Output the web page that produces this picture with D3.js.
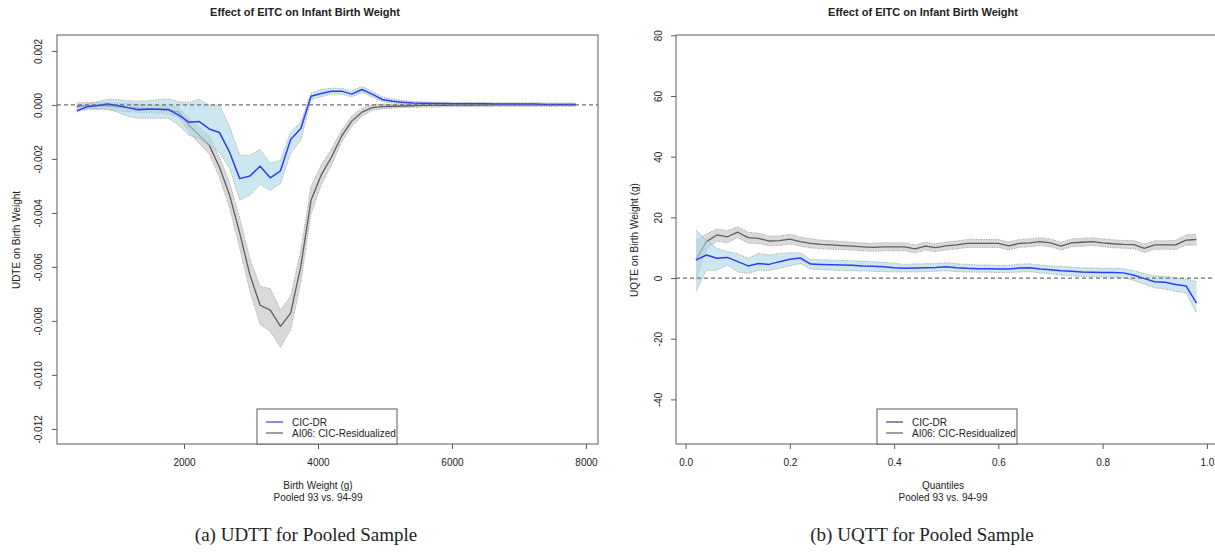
<!DOCTYPE html>
<html>
<head>
<meta charset="utf-8">
<script src="https://cdn.jsdelivr.net/npm/d3@7"></script>
<style>
  html, body { margin: 0; padding: 0; background: #fff; }
  svg { display: block; }
  text { font-family: "Liberation Sans", Arial, Helvetica, sans-serif; fill: #222; }
</style>
</head>
<body>
<svg id="chart" width="1215" height="552"></svg>
<script>
// ---------- Panel (a): UDTE over birth weight ----------
const bwGrid = [400, 552, 704, 856, 1008, 1160, 1312, 1464, 1616, 1768,
  1920, 2072, 2224, 2376, 2528, 2680, 2832, 2984, 3136, 3288,
  3440, 3592, 3744, 3896, 4048, 4200, 4352, 4504, 4656, 4808,
  4960, 5112, 5264, 5416, 5568, 5720, 5872, 6024, 6176, 6328,
  6480, 6632, 6784, 6936, 7088, 7240, 7392, 7544, 7696, 7848];

const cicdrUDTE = [-0.00022, -0.00007, -0.00002, 0.00003, -0.00002, -0.00010, -0.00018, -0.00016, -0.00016, -0.00017,
  -0.00038, -0.00064, -0.00061, -0.00089, -0.00102, -0.00175, -0.00273, -0.00263, -0.00227, -0.00270,
  -0.00244, -0.00128, -0.00087, 0.00032, 0.00042, 0.00051, 0.00051, 0.00040, 0.00057, 0.00040,
  0.00020, 0.00014, 0.00010, 0.00007, 0.00006, 0.00005, 0.00005, 0.00004, 0.00004, 0.00004,
  0.00004, 0.00003, 0.00003, 0.00003, 0.00003, 0.00003, 0.00002, 0.00002, 0.00002, 0.00002];
const cicdrUDTELo = [-0.00026, -0.00016, -0.00016, -0.00016, -0.00027, -0.00042, -0.00049, -0.00049, -0.00049, -0.00049,
  -0.00075, -0.00112, -0.00123, -0.00149, -0.00175, -0.00234, -0.00353, -0.00334, -0.00294, -0.00316,
  -0.00290, -0.00179, -0.00131, 0.00020, 0.00030, 0.00040, 0.00040, 0.00030, 0.00046, 0.00030,
  0.00012, 0.00007, 0.00004, 0.00002, 0.00002, 0.00001, 0.00001, 0.00000, 0.00000, 0.00000,
  0.00000, -0.00001, -0.00001, -0.00001, -0.00001, -0.00001, -0.00002, -0.00002, -0.00002, -0.00002];
const cicdrUDTEHi = [-0.00010, 0.00003, 0.00012, 0.00021, 0.00020, 0.00015, 0.00014, 0.00015, 0.00020, 0.00022,
  0.00012, 0.00009, 0.00021, 0.00000, 0.00000, -0.00080, -0.00186, -0.00186, -0.00165, -0.00217,
  -0.00205, -0.00100, -0.00064, 0.00042, 0.00057, 0.00062, 0.00062, 0.00052, 0.00068, 0.00051,
  0.00030, 0.00022, 0.00017, 0.00013, 0.00011, 0.00010, 0.00010, 0.00009, 0.00009, 0.00009,
  0.00009, 0.00008, 0.00008, 0.00008, 0.00008, 0.00008, 0.00007, 0.00007, 0.00007, 0.00007];

const ai06UDTE = [-0.00005, -0.00003, -0.00003, -0.00003, -0.00007, -0.00010, -0.00012, -0.00014, -0.00016, -0.00020,
  -0.00026, -0.00075, -0.00112, -0.00149, -0.00230, -0.00334, -0.00475, -0.00630, -0.00742, -0.00760,
  -0.00820, -0.00771, -0.00597, -0.00353, -0.00260, -0.00194, -0.00116, -0.00060, -0.00027, -0.00010,
  -0.00006, -0.00005, -0.00004, -0.00003, -0.00002, -0.00002, -0.00002, -0.00001, -0.00001, -0.00001,
  -0.00001, 0, 0, 0, 0, 0, 0, 0, 0, 0];
const ai06UDTELo = [-0.00017, -0.00015, -0.00015, -0.00015, -0.00022, -0.00025, -0.00027, -0.00029, -0.00031, -0.00035,
  -0.00045, -0.00101, -0.00142, -0.00182, -0.00267, -0.00382, -0.00531, -0.00690, -0.00812, -0.00840,
  -0.00898, -0.00834, -0.00657, -0.00405, -0.00297, -0.00224, -0.00138, -0.00079, -0.00042, -0.00021,
  -0.00015, -0.00012, -0.00010, -0.00009, -0.00008, -0.00008, -0.00007, -0.00006, -0.00006, -0.00006,
  -0.00006, -0.00005, -0.00005, -0.00005, -0.00005, -0.00005, -0.00005, -0.00005, -0.00005, -0.00005];
const ai06UDTEHi = [0.00007, 0.00009, 0.00009, 0.00009, 0.00008, 0.00005, 0.00003, 0.00001, -0.00001, -0.00005,
  -0.00007, -0.00049, -0.00082, -0.00116, -0.00193, -0.00286, -0.00419, -0.00570, -0.00672, -0.00680,
  -0.00760, -0.00708, -0.00537, -0.00301, -0.00223, -0.00164, -0.00094, -0.00041, -0.00012, 0.00001,
  0.00003, 0.00002, 0.00002, 0.00002, 0.00003, 0.00003, 0.00003, 0.00004, 0.00004, 0.00004,
  0.00004, 0.00005, 0.00005, 0.00005, 0.00005, 0.00005, 0.00005, 0.00005, 0.00005, 0.00005];

const xTicksA = [2000, 4000, 6000, 8000];
const xTickLabelsA = ["2000", "4000", "6000", "8000"];
const yTicksA = [0.002, 0, -0.002, -0.004, -0.006, -0.008, -0.010, -0.012];
const yTickLabelsA = ["0.002", "0.000", "-0.002", "-0.004", "-0.006", "-0.008", "-0.010", "-0.012"];

// ---------- Panel (b): UQTE over quantiles ----------
const quantiles = [0.02, 0.04, 0.06, 0.08, 0.10, 0.12, 0.14, 0.16, 0.18, 0.20,
  0.22, 0.24, 0.26, 0.28, 0.30, 0.32, 0.34, 0.36, 0.38, 0.40,
  0.42, 0.44, 0.46, 0.48, 0.50, 0.52, 0.54, 0.56, 0.58, 0.60,
  0.62, 0.64, 0.66, 0.68, 0.70, 0.72, 0.74, 0.76, 0.78, 0.80,
  0.82, 0.84, 0.86, 0.88, 0.90, 0.92, 0.94, 0.96, 0.98];

const cicdrUQTE = [5.9, 7.6, 6.5, 6.8, 5.4, 4.0, 4.8, 4.5, 5.4, 6.2,
  6.6, 4.6, 4.5, 4.4, 4.3, 4.2, 4.0, 3.9, 3.7, 3.4,
  3.2, 3.3, 3.4, 3.5, 3.7, 3.4, 3.2, 3.1, 3.1, 3.0,
  3.0, 3.3, 3.4, 3.0, 2.7, 2.4, 2.2, 2.0, 1.9, 1.8,
  1.8, 1.7, 0.9, -0.2, -1.2, -1.4, -2.1, -2.6, -8.3];
const cicdrUQTELo = [-4.5, 2.6, 2.6, 4.3, 2.0, 1.5, 2.6, 2.5, 3.2, 4.0,
  4.8, 3.0, 2.8, 2.6, 2.5, 2.4, 2.3, 2.2, 2.1, 2.0,
  2.0, 2.0, 2.1, 2.2, 2.4, 2.1, 2.0, 1.9, 1.9, 1.8,
  1.8, 2.0, 2.1, 1.7, 1.4, 1.0, 0.7, 0.5, 0.4, 0.3,
  0.3, 0.2, -0.8, -2.0, -3.2, -3.6, -4.4, -4.9, -11.6];
const cicdrUQTEHi = [15.8, 12.5, 9.8, 8.7, 8.0, 6.5, 8.1, 7.6, 8.1, 8.3,
  8.3, 6.2, 6.0, 5.9, 5.8, 5.7, 5.5, 5.4, 5.2, 4.9,
  4.5, 4.6, 4.7, 4.8, 5.0, 4.7, 4.5, 4.3, 4.3, 4.2,
  4.2, 4.6, 4.7, 4.3, 4.0, 3.8, 3.6, 3.4, 3.3, 3.2,
  3.2, 3.1, 2.4, 1.5, 0.7, 0.5, 0.1, -0.3, -1.2];

const ai06UQTE = [6.0, 12.0, 14.2, 13.6, 15.1, 13.3, 13.1, 12.2, 12.3, 12.8,
  12.0, 11.4, 11.1, 10.9, 10.7, 10.5, 10.3, 10.1, 10.3, 10.3,
  10.3, 9.6, 10.5, 10.0, 10.6, 10.9, 11.4, 11.4, 11.4, 11.4,
  10.6, 11.4, 11.6, 12.0, 11.6, 10.5, 11.6, 11.8, 12.0, 11.6,
  11.3, 11.1, 11.0, 9.8, 10.9, 10.9, 10.9, 12.5, 12.7];
const ai06UQTELo = [-0.5, 9.5, 12.2, 11.6, 13.3, 11.5, 11.4, 10.6, 10.7, 11.2,
  10.5, 9.9, 9.7, 9.5, 9.4, 9.2, 9.0, 8.8, 9.0, 9.0,
  9.0, 8.3, 9.2, 8.7, 9.3, 9.6, 10.1, 10.1, 10.1, 10.1,
  9.3, 10.1, 10.3, 10.7, 10.3, 9.2, 10.3, 10.5, 10.7, 10.3,
  10.0, 9.8, 9.7, 8.4, 9.5, 9.5, 9.4, 10.8, 10.9];
const ai06UQTEHi = [12.5, 14.5, 16.2, 15.6, 16.9, 15.1, 14.8, 13.8, 13.9, 14.4,
  13.5, 12.9, 12.5, 12.3, 12.0, 11.8, 11.6, 11.4, 11.6, 11.6,
  11.6, 10.9, 11.8, 11.3, 11.9, 12.2, 12.7, 12.7, 12.7, 12.7,
  11.9, 12.7, 12.9, 13.3, 12.9, 11.8, 12.9, 13.1, 13.3, 12.9,
  12.6, 12.4, 12.3, 11.2, 12.3, 12.3, 12.4, 14.2, 14.5];

const xTicksB = [0, 0.2, 0.4, 0.6, 0.8, 1.0];
const xTickLabelsB = ["0.0", "0.2", "0.4", "0.6", "0.8", "1.0"];
const yTicksB = [80, 60, 40, 20, 0, -20, -40];
const yTickLabelsB = ["80", "60", "40", "20", "0", "-20", "-40"];

const legendLabels = ["CIC-DR", "AI06: CIC-Residualized"];

// ---------- drawing ----------
const svg = d3.select("#chart");
svg.append("rect").attr("width", 1215).attr("height", 552).attr("fill", "#fff");

const BLUE = "#2f3cf5";
const GRAY = "#5e5e5e";
const BAND_BLUE = "rgba(173,216,230,0.62)";
const BAND_GRAY = "rgba(150,150,150,0.36)";
const AXIS = "#5a5a5a";

function drawPanel(cfg) {
  const g = svg.append("g");
  const x = d3.scaleLinear().domain(cfg.xDomain).range(cfg.xRange);
  const y = d3.scaleLinear().domain(cfg.yDomain).range([444, 35]);

  const rows = (xs, est, lo, hi) => xs.map((v, i) => ({x: v, e: est[i], lo: lo[i], hi: hi[i]}));
  const gray = rows(cfg.xs, cfg.grayEst, cfg.grayLo, cfg.grayHi);
  const blue = rows(cfg.xs, cfg.blueEst, cfg.blueLo, cfg.blueHi);

  const area = d3.area().x(d => x(d.x)).y0(d => y(d.lo)).y1(d => y(d.hi));
  const lineE = d3.line().x(d => x(d.x)).y(d => y(d.e));
  const lineLo = d3.line().x(d => x(d.x)).y(d => y(d.lo));
  const lineHi = d3.line().x(d => x(d.x)).y(d => y(d.hi));

  function series(data, fill, stroke, sw) {
    g.append("path").attr("d", area(data)).attr("fill", fill).attr("stroke", "none");
    [lineLo, lineHi].forEach(l => g.append("path").attr("d", l(data))
      .attr("fill", "none").attr("stroke", "#9a9a9a").attr("stroke-width", 1)
      .attr("stroke-dasharray", "1,1.5"));
    g.append("path").attr("d", lineE(data)).attr("fill", "none")
      .attr("stroke", stroke).attr("stroke-width", sw).attr("stroke-linejoin", "round");
  }
  series(gray, BAND_GRAY, GRAY, 1.3);
  series(blue, BAND_BLUE, BLUE, 1.5);

  // zero reference
  g.append("line").attr("x1", cfg.xRange[0]).attr("x2", cfg.xRange[1])
    .attr("y1", y(0)).attr("y2", y(0))
    .attr("stroke", "#6e6e6e").attr("stroke-width", 1.3).attr("stroke-dasharray", "4,3");

  // box
  g.append("rect").attr("x", cfg.xRange[0]).attr("y", 35)
    .attr("width", cfg.xRange[1] - cfg.xRange[0]).attr("height", 409)
    .attr("fill", "none").attr("stroke", AXIS).attr("stroke-width", 1);

  // axes
  const xa = g.append("g").attr("transform", "translate(0,444)")
    .call(d3.axisBottom(x).tickValues(cfg.xTicks).tickSize(5).tickSizeOuter(0)
      .tickFormat((d, i) => cfg.xTickLabels[i]));
  xa.select(".domain").remove();
  xa.selectAll(".tick line").attr("stroke", AXIS);
  xa.selectAll(".tick text").attr("y", 18).attr("dy", "0.35em")
    .style("font-size", "10px").style("font-family", "Liberation Sans, Arial, sans-serif").attr("fill", "#222");

  const ya = g.append("g").attr("transform", `translate(${cfg.xRange[0]},0)`)
    .call(d3.axisLeft(y).tickValues(cfg.yTicks).tickSize(5).tickSizeOuter(0)
      .tickFormat((d, i) => cfg.yTickLabels[i]));
  ya.select(".domain").remove();
  ya.selectAll(".tick line").attr("stroke", AXIS);
  ya.selectAll(".tick text").attr("x", 0).attr("dy", "0.35em").attr("text-anchor", "middle")
    .attr("transform", `translate(${cfg.yLabOff},0) rotate(-90)`)
    .style("font-size", "10px").style("font-family", "Liberation Sans, Arial, sans-serif").attr("fill", "#222");

  // titles and labels
  g.append("text").attr("x", cfg.titleX).attr("y", 16).attr("text-anchor", "middle")
    .style("font-size", "11px").style("font-weight", "bold").text(cfg.title);
  g.append("text").attr("x", cfg.xlabX).attr("y", 489).attr("text-anchor", "middle")
    .style("font-size", "10px").text(cfg.xlab);
  g.append("text").attr("x", cfg.xlabX).attr("y", 501).attr("text-anchor", "middle")
    .style("font-size", "10px").text(cfg.sub);
  g.append("text").attr("transform", `translate(${cfg.ylabX},240) rotate(-90)`)
    .attr("text-anchor", "middle").attr("dy", "0.35em")
    .style("font-size", "10px").text(cfg.ylab);

  // legend
  const lg = g.append("g").attr("transform", `translate(${cfg.legX},409)`);
  lg.append("rect").attr("width", 140).attr("height", 35).attr("fill", "#fff")
    .attr("stroke", AXIS).attr("stroke-width", 1);
  cfg.legColors.forEach((c, i) => {
    const yy = 13 + i * 11;
    lg.append("line").attr("x1", 9).attr("x2", 26).attr("y1", yy).attr("y2", yy)
      .attr("stroke", c).attr("stroke-width", 1.2);
    lg.append("text").attr("x", 35).attr("y", yy).attr("dy", "0.35em")
      .style("font-size", "10px").text(legendLabels[i]);
  });

  // caption
  svg.append("text").attr("x", cfg.capX).attr("y", 541).attr("text-anchor", "middle")
    .style("font-family", "Liberation Serif, 'Times New Roman', serif").style("font-size", "19px")
    .attr("fill", "#111").text(cfg.caption);
}

drawPanel({
  xs: bwGrid, xDomain: [104, 8180], xRange: [57, 598], yDomain: [-0.01256, 0.00259],
  blueEst: cicdrUDTE, blueLo: cicdrUDTELo, blueHi: cicdrUDTEHi,
  grayEst: ai06UDTE, grayLo: ai06UDTELo, grayHi: ai06UDTEHi,
  xTicks: xTicksA, xTickLabels: xTickLabelsA, yTicks: yTicksA, yTickLabels: yTickLabelsA,
  yLabOff: -19, title: "Effect of EITC on Infant Birth Weight", titleX: 305,
  xlab: "Birth Weight (g)", sub: "Pooled 93 vs. 94-99", xlabX: 318,
  ylab: "UDTE on Birth Weight", ylabX: 16, legX: 257, legColors: [BLUE, GRAY],
  caption: "(a)  UDTT for Pooled Sample", capX: 306
});

drawPanel({
  xs: quantiles, xDomain: [-0.0184, 1.0184], xRange: [676, 1216.5], yDomain: [-54.7, 80.1],
  blueEst: cicdrUQTE, blueLo: cicdrUQTELo, blueHi: cicdrUQTEHi,
  grayEst: ai06UQTE, grayLo: ai06UQTELo, grayHi: ai06UQTEHi,
  xTicks: xTicksB, xTickLabels: xTickLabelsB, yTicks: yTicksB, yTickLabels: yTickLabelsB,
  yLabOff: -18, title: "Effect of EITC on Infant Birth Weight", titleX: 923,
  xlab: "Quantiles", sub: "Pooled 93 vs. 94-99", xlabX: 943,
  ylab: "UQTE on Birth Weight (g)", ylabX: 634, legX: 877, legColors: ["#3d3d72", GRAY],
  caption: "(b)  UQTT for Pooled Sample", capX: 922
});
</script>
</body>
</html>
